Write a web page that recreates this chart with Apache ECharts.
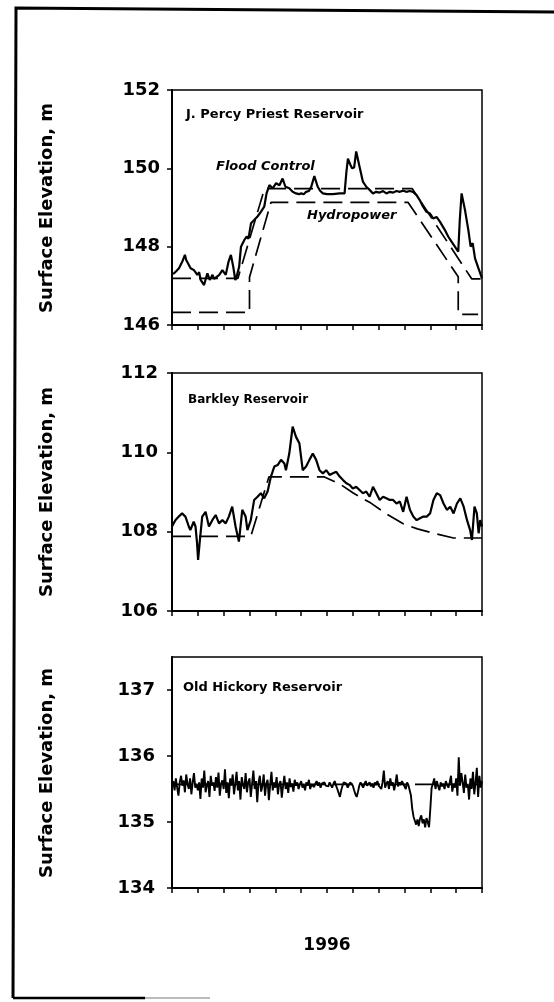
<!DOCTYPE html>
<html>
<head>
<meta charset="utf-8">
<script src="https://cdn.jsdelivr.net/npm/echarts@6/dist/echarts.min.js"></script>
<style>
html,body{margin:0;padding:0;background:#fff;}
#chart{width:554px;height:1002px;}
</style>
</head>
<body>
<div id="chart"></div>
<script>
// ---------- DATA (x = months since 1 Jan 1996) ----------
const yearLabel = '1996';
const yTitle = 'Surface Elevation, m';
const panelNames = ['J. Percy Priest Reservoir', 'Barkley Reservoir', 'Old Hickory Reservoir'];

// J. Percy Priest – observed elevation
const percyObserved = [
 [0,147.30],[0.08,147.32],[0.17,147.38],[0.27,147.45],[0.33,147.40],[0.40,147.62],[0.50,147.79],[0.55,147.66],[0.60,147.70],[0.72,147.45],[0.85,147.40],
 [0.98,147.28],[1.05,147.35],[1.11,147.15],[1.24,147.02],[1.37,147.32],[1.46,147.15],[1.57,147.28],[1.63,147.18],[1.70,147.23],[1.83,147.28],
 [1.95,147.40],[2.08,147.28],[2.19,147.62],[2.28,147.79],[2.37,147.49],[2.45,147.15],[2.50,147.23],[2.60,147.49],
 [2.67,148.00],[2.80,148.17],[2.89,148.26],[2.96,148.20],[3.06,148.60],[3.18,148.68],[3.31,148.77],[3.44,148.89],
 [3.57,149.02],[3.66,149.36],[3.77,149.57],[3.90,149.49],[4.03,149.62],[4.16,149.57],[4.28,149.74],[4.39,149.53],
 [4.54,149.49],[4.67,149.40],[4.80,149.36],[4.92,149.34],[5.00,149.36],[5.10,149.34],[5.19,149.40],[5.30,149.42],
 [5.39,149.53],[5.51,149.80],[5.64,149.53],[5.74,149.42],[5.84,149.36],[6.00,149.34],[6.23,149.34],[6.49,149.36],
 [6.68,149.36],[6.75,149.90],[6.81,150.25],[6.90,150.10],[6.97,150.00],[7.05,150.02],[7.13,150.43],[7.26,150.04],
 [7.39,149.66],[7.52,149.53],[7.65,149.45],[7.78,149.36],[7.90,149.40],[8.04,149.38],[8.17,149.42],[8.30,149.36],
 [8.43,149.40],[8.56,149.38],[8.69,149.42],[8.82,149.40],[8.95,149.43],[9.07,149.40],[9.20,149.42],[9.33,149.40],
 [9.46,149.32],[9.59,149.19],[9.72,149.02],[9.85,148.89],[9.98,148.85],[10.11,148.72],[10.24,148.76],[10.37,148.64],
 [10.43,148.68],[10.56,148.43],[10.69,148.26],[10.82,148.13],[10.95,148.00],[11.08,147.87],[11.14,148.68],[11.21,149.36],
 [11.34,148.94],[11.47,148.43],[11.56,148.00],[11.64,148.09],[11.73,147.70],[11.86,147.45],[12,147.19]
];
// J. Percy Priest – flood control guide curve
const percyFlood = [[0,147.19],[2.55,147.19],[3.58,149.48],[9.30,149.48],[11.60,147.18],[12,147.18]];
// J. Percy Priest – hydropower guide curve
const percyHydro = [[0,146.32],[3.00,146.32],[3.00,147.22],[3.83,149.13],[9.14,149.13],[11.08,147.23],[11.08,146.27],[11.85,146.27]];

// Barkley – observed elevation
const barkleyObserved = [
 [0,108.13],[0.13,108.29],[0.26,108.38],[0.39,108.46],[0.52,108.38],[0.65,108.13],[0.71,108.04],[0.84,108.25],
 [0.91,108.13],[0.97,107.71],[1.01,107.29],[1.08,107.79],[1.17,108.38],[1.30,108.50],[1.43,108.13],[1.56,108.29],
 [1.69,108.42],[1.82,108.21],[1.95,108.29],[2.08,108.21],[2.20,108.38],[2.33,108.63],[2.46,108.13],[2.59,107.75],
 [2.72,108.55],[2.85,108.38],[2.92,108.04],[3.05,108.29],[3.18,108.80],[3.31,108.88],[3.44,108.97],[3.57,108.84],
 [3.70,109.01],[3.83,109.39],[3.96,109.64],[4.09,109.68],[4.22,109.81],[4.35,109.72],[4.41,109.55],[4.54,109.97],
 [4.67,110.65],[4.80,110.39],[4.93,110.23],[5.06,109.55],[5.19,109.64],[5.32,109.81],[5.45,109.97],[5.58,109.81],
 [5.71,109.55],[5.84,109.47],[5.97,109.55],[6.10,109.43],[6.23,109.47],[6.36,109.51],[6.49,109.39],[6.62,109.30],
 [6.75,109.22],[6.87,109.18],[7.00,109.09],[7.13,109.13],[7.26,109.05],[7.39,108.97],[7.52,109.01],[7.65,108.88],
 [7.78,109.13],[7.91,108.97],[8.04,108.80],[8.17,108.88],[8.30,108.84],[8.43,108.80],[8.56,108.80],[8.69,108.71],
 [8.82,108.76],[8.95,108.50],[9.08,108.88],[9.21,108.55],[9.34,108.38],[9.47,108.29],[9.60,108.34],[9.73,108.38],
 [9.86,108.38],[9.99,108.46],[10.12,108.80],[10.25,108.97],[10.38,108.92],[10.51,108.71],[10.64,108.55],[10.77,108.63],
 [10.90,108.46],[11.03,108.71],[11.16,108.84],[11.29,108.63],[11.42,108.29],[11.54,108.04],[11.61,107.79],[11.71,108.63],
 [11.80,108.46],[11.87,107.96],[11.93,108.29],[12,108.13]
];
// Barkley – guide curve
const barkleyRule = [[0,107.88],[3.05,107.88],[3.75,109.38],[5.90,109.38],[6.50,109.20],[7.00,108.98],[7.70,108.72],
 [8.30,108.45],[8.95,108.20],[9.50,108.07],[10.20,107.95],[10.90,107.84],[12,107.84]];

// Old Hickory – observed elevation, sampled every hickoryStep months from hickoryStart
const hickoryStart = 0;
const hickoryStep = 0.05;
const hickoryObserved = [
 135.55,135.62,135.48,135.66,135.52,135.40,135.60,135.70,135.55,135.63,135.45,135.72,135.58,135.50,135.66,135.42,135.60,135.74,135.52,135.58,
 135.48,135.60,135.35,135.66,135.52,135.78,135.45,135.56,135.62,135.38,135.70,135.55,135.60,135.47,135.68,135.52,135.75,135.40,135.58,135.63,
 135.50,135.80,135.44,135.60,135.36,135.66,135.55,135.72,135.42,135.58,135.76,135.48,135.62,135.34,135.68,135.56,135.50,135.74,135.45,135.60,
 135.66,135.38,135.58,135.78,135.50,135.62,135.30,135.60,135.70,135.46,135.55,135.72,135.40,135.58,135.64,135.33,135.56,135.76,135.48,135.60,
 135.52,135.68,135.42,135.58,135.62,135.37,135.55,135.70,135.50,135.60,135.44,135.66,135.53,135.58,135.46,135.64,135.55,135.60,135.50,135.57,
 135.62,135.52,135.58,135.48,135.60,135.55,135.64,135.50,135.57,135.60,135.53,135.58,135.62,135.55,135.60,135.52,135.58,135.56,135.60,135.55,
 135.58,135.54,135.60,135.56,135.52,135.58,135.62,135.55,135.50,135.44,135.38,135.48,135.55,135.60,135.63,135.58,135.52,135.56,135.60,135.58,
 135.55,135.48,135.42,135.38,135.46,135.55,135.60,135.56,135.52,135.58,135.62,135.55,135.58,135.60,135.54,135.58,135.52,135.60,135.56,135.62,
 135.55,135.58,135.50,135.60,135.78,135.52,135.58,135.62,135.50,135.66,135.55,135.60,135.48,135.58,135.72,135.54,135.60,135.56,135.62,135.58,
 135.55,135.50,135.60,135.56,135.58,135.40,135.20,135.08,135.02,134.96,135.04,134.94,135.05,135.10,134.98,135.04,134.92,135.06,135.00,134.92,
 135.20,135.52,135.58,135.66,135.50,135.62,135.55,135.48,135.60,135.54,135.58,135.50,135.62,135.56,135.52,135.60,135.70,135.46,135.58,135.52,
 135.66,135.40,135.98,135.55,135.74,135.60,135.44,135.72,135.52,135.58,135.34,135.66,135.50,135.76,135.42,135.60,135.82,135.38,135.70,135.52,135.62
];
// Old Hickory – guide curve
const hickoryRule = [[0,135.57],[12,135.57]];

// Axis ticks
const monthTicks = {min: 0, max: 12, interval: 1};
const percyTicks = {min: 146, max: 152, interval: 2};
const barkleyTicks = {min: 106, max: 112, interval: 2};
const hickoryTicks = {min: 134, max: 137.5, values: [134, 135, 136, 137]};

// ---------- CHART ----------
const FONT = '"DejaVu Sans", Arial, sans-serif';
const grids = [
  {left: 172, top: 90, width: 310, height: 235},
  {left: 172, top: 373, width: 310, height: 238},
  {left: 172, top: 657, width: 310, height: 231}
];
function xAx(i) {
  return {
    type: 'value', gridIndex: i, min: monthTicks.min, max: monthTicks.max, interval: monthTicks.interval,
    axisLine: {show: true, onZero: false, lineStyle: {color: '#000', width: 2}},
    axisTick: {show: true, inside: false, length: 5, lineStyle: {color: '#000', width: 1.5}},
    axisLabel: {show: false}, splitLine: {show: false}
  };
}
function yAx(i, t, margin) {
  const o = {
    type: 'value', gridIndex: i, min: t.min, max: t.max,
    axisLine: {show: true, onZero: false, lineStyle: {color: '#000', width: 2}},
    axisTick: {show: true, inside: false, length: 5, lineStyle: {color: '#000', width: 1.5}},
    axisLabel: {show: true, color: '#000', fontFamily: FONT, fontWeight: 'bold', fontSize: 18, margin: margin},
    splitLine: {show: false}
  };
  if (t.values) {
    o.axisTick.customValues = t.values;
    o.axisLabel.customValues = t.values;
  } else {
    o.interval = t.interval;
  }
  return o;
}
const solid = {color: '#000', width: 2.2, type: 'solid'};
const solidNoisy = {color: '#000', width: 1.9, type: 'solid'};
const dashed = {color: '#000', width: 1.7, type: [19, 8]};
function line(i, data, style, z) {
  return {type: 'line', xAxisIndex: i, yAxisIndex: i, data: data, showSymbol: false, symbol: 'none',
          lineStyle: style, z: z || 2, animation: false, silent: true};
}
const hickoryData = hickoryObserved.map((v, k) => [hickoryStart + k * hickoryStep, v]);

function txt(x, y, s, size, extra) {
  return {type: 'text', x: x, y: y, silent: true,
    style: Object.assign({text: s, fill: '#000', font: 'bold ' + size + 'px ' + FONT,
      textAlign: 'left', textVerticalAlign: 'middle'}, extra || {})};
}
function rotTxt(x, y, s, size) {
  return {type: 'text', x: x, y: y, rotation: Math.PI / 2, silent: true,
    style: {text: s, fill: '#000', font: 'bold ' + size + 'px ' + FONT, textAlign: 'center', textVerticalAlign: 'middle'}};
}

const option = {
  backgroundColor: '#fff',
  animation: false,
  grid: grids.map(g => Object.assign({show: true, borderColor: '#000', borderWidth: 1.5, backgroundColor: 'transparent'}, g)),
  xAxis: [xAx(0), xAx(1), xAx(2)],
  yAxis: [yAx(0, percyTicks, 12), yAx(1, barkleyTicks, 14), yAx(2, hickoryTicks, 17)],
  series: [
    line(0, percyFlood, dashed, 2),
    line(0, percyHydro, dashed, 2),
    line(0, percyObserved, solid, 3),
    line(1, barkleyRule, dashed, 2),
    line(1, barkleyObserved, solid, 3),
    line(2, hickoryRule, dashed, 2),
    line(2, hickoryData, solidNoisy, 3)
  ],
  graphic: [
    {type: 'polyline', silent: true, shape: {points: [[13, 998], [16, 8], [560, 12]]},
     style: {stroke: '#000', lineWidth: 3, fill: null}},
    {type: 'line', silent: true, shape: {x1: 13, y1: 998, x2: 145, y2: 998}, style: {stroke: '#000', lineWidth: 2.5}},
    {type: 'line', silent: true, shape: {x1: 145, y1: 998, x2: 210, y2: 998}, style: {stroke: '#bbb', lineWidth: 2}},
    txt(186, 115, panelNames[0], 13),
    txt(188, 400, panelNames[1], 12),
    txt(183, 688, panelNames[2], 13),
    txt(216, 167, 'Flood Control', 13, {font: 'italic bold 13px ' + FONT}),
    txt(307, 216, 'Hydropower', 13, {font: 'italic bold 13px ' + FONT}),
    rotTxt(47, 208, yTitle, 18),
    rotTxt(47, 492, yTitle, 18),
    rotTxt(47, 773, yTitle, 18),
    txt(327, 946, yearLabel, 17, {textAlign: 'center'})
  ]
};
const chart = echarts.init(document.getElementById('chart'), null, {renderer: 'canvas'});
chart.setOption(option);
</script>
</body>
</html>
